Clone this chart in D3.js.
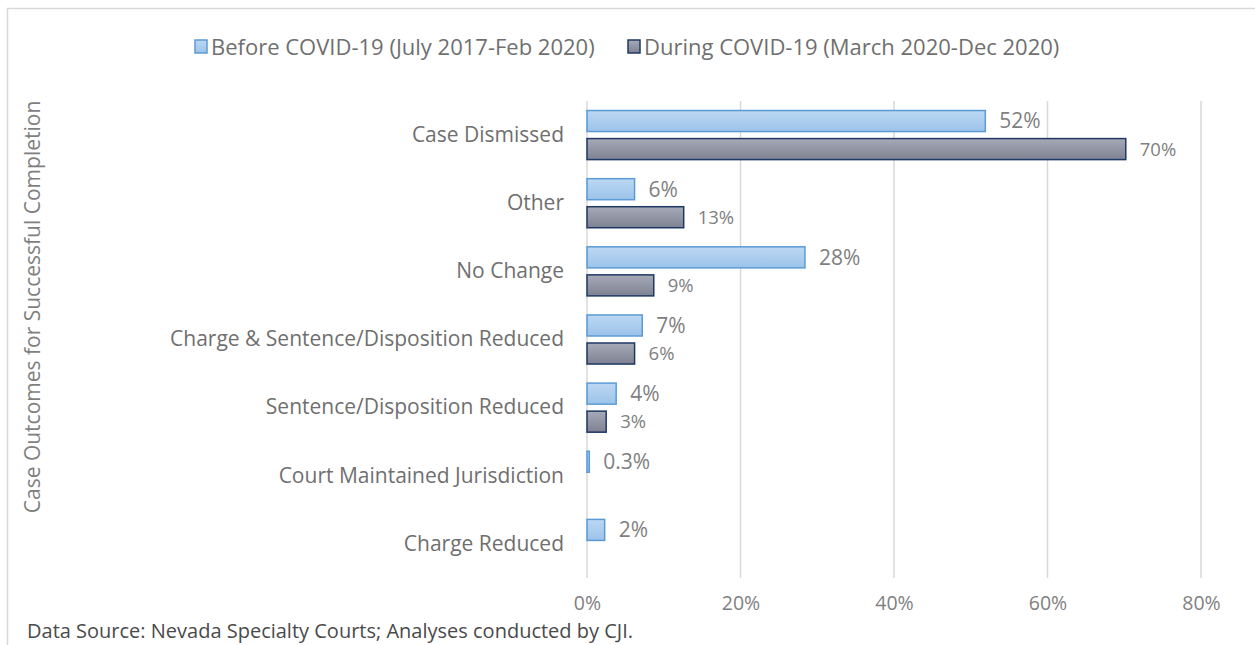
<!DOCTYPE html>
<html>
<head>
<meta charset="utf-8">
<script src="https://cdn.jsdelivr.net/npm/d3@7"></script>
<style>
  html, body { margin: 0; padding: 0; background: #fff; }
  svg { display: block; }
  text { font-family: "Open Sans", "Noto Sans", sans-serif; }
</style>
</head>
<body>
<svg id="chart" width="1255" height="645"></svg>
<script>
const categories = [
  "Case Dismissed",
  "Other",
  "No Change",
  "Charge & Sentence/Disposition Reduced",
  "Sentence/Disposition Reduced",
  "Court Maintained Jurisdiction",
  "Charge Reduced"
];
const beforeValues = [0.519, 0.062, 0.284, 0.072, 0.038, 0.003, 0.023];
const duringValues = [0.702, 0.126, 0.087, 0.062, 0.025, null, null];
const beforeLabels = ["52%", "6%", "28%", "7%", "4%", "0.3%", "2%"];
const duringLabels = ["70%", "13%", "9%", "6%", "3%", "", ""];
const seriesNames = ["Before COVID-19 (July 2017-Feb 2020)", "During COVID-19 (March 2020-Dec 2020)"];
const xTicks = [0, 0.2, 0.4, 0.6, 0.8];
const yTitle = "Case Outcomes for Successful Completion";
const sourceNote = "Data Source: Nevada Specialty Courts; Analyses conducted by CJI.";

const svg = d3.select("#chart");
const defs = svg.append("defs");

const gB = defs.append("linearGradient").attr("id", "gBefore").attr("x1", 0).attr("y1", 0).attr("x2", 0).attr("y2", 1);
gB.append("stop").attr("offset", "0%").attr("stop-color", "#bcd8f3");
gB.append("stop").attr("offset", "100%").attr("stop-color", "#9cc3ea");
const gD = defs.append("linearGradient").attr("id", "gDuring").attr("x1", 0).attr("y1", 0).attr("x2", 0).attr("y2", 1);
gD.append("stop").attr("offset", "0%").attr("stop-color", "#a7abb8");
gD.append("stop").attr("offset", "100%").attr("stop-color", "#7d8191");

const series = [
  { key: "before", values: beforeValues, labels: beforeLabels, fill: "url(#gBefore)", stroke: "#5b9bd5", fs: 21 },
  { key: "during", values: duringValues, labels: duringLabels, fill: "url(#gDuring)", stroke: "#1f3864", fs: 18.5 }
];

// outer border
svg.append("rect").attr("x", 7.5).attr("y", 8.5).attr("width", 1300).attr("height", 700)
  .attr("fill", "none").attr("stroke", "#d9d9d9").attr("stroke-width", 1.5);

const x = d3.scaleLinear().domain([0, 0.8]).range([587, 1201]);
const y0 = d3.scaleBand().domain(categories).range([101, 578]).padding(0);
const y1 = d3.scaleBand().domain(series.map(s => s.key)).range([0, y0.bandwidth()])
  .paddingInner(0.25).paddingOuter(0.34);

// gridlines
svg.append("g").selectAll("line").data(xTicks).join("line")
  .attr("x1", d => x(d)).attr("x2", d => x(d))
  .attr("y1", 101).attr("y2", 578)
  .attr("stroke", "#d9d9d9").attr("stroke-width", 1.5);

// x axis tick labels
const xAxis = d3.axisBottom(x).tickValues(xTicks).tickFormat(d3.format(".0%")).tickSize(0).tickPadding(0);
const xg = svg.append("g").attr("transform", "translate(0,596)").call(xAxis);
xg.select(".domain").remove();
xg.selectAll("text").attr("fill", "#7f7f7f").style("font-size", "19.5px").style("font-family", "'Open Sans', sans-serif");

// y axis category labels
const yAxis = d3.axisLeft(y0).tickSize(0).tickPadding(0);
const yg = svg.append("g").attr("transform", "translate(564,0)").call(yAxis);
yg.select(".domain").remove();
yg.selectAll("text").attr("fill", "#6f6f6f").style("font-size", "21px").style("font-family", "'Open Sans', sans-serif");

// bars
series.forEach(s => {
  const g = svg.append("g");
  const data = categories.map((c, i) => ({ c, v: s.values[i], l: s.labels[i] })).filter(d => d.v != null);
  g.selectAll("rect").data(data).join("rect")
    .attr("x", x(0))
    .attr("y", d => y0(d.c) + y1(s.key))
    .attr("width", d => x(d.v) - x(0))
    .attr("height", y1.bandwidth())
    .attr("fill", s.fill)
    .attr("stroke", s.stroke).attr("stroke-width", 1.5);
  g.selectAll("text").data(data).join("text")
    .attr("x", d => x(d.v) + 14)
    .attr("y", d => y0(d.c) + y1(s.key) + y1.bandwidth() / 2)
    .attr("dy", "0.35em")
    .attr("fill", "#7f7f7f")
    .style("font-size", s.fs + "px")
    .text(d => d.l);
});

// y title
svg.append("text")
  .attr("transform", "translate(40,307) rotate(-90)")
  .attr("text-anchor", "middle")
  .attr("fill", "#7f7f7f")
  .style("font-size", "21px")
  .text(yTitle);

// legend
const legendX = [195, 628];
series.forEach((s, i) => {
  svg.append("rect").attr("x", legendX[i]).attr("y", 40).attr("width", 12).attr("height", 13)
    .attr("fill", s.fill).attr("stroke", s.stroke).attr("stroke-width", 1.5);
  svg.append("text").attr("x", legendX[i] + 16).attr("y", 47).attr("dy", "0.35em")
    .attr("fill", "#6f6f6f").style("font-size", "22px").text(seriesNames[i]);
});

// source
svg.append("text").attr("x", 27).attr("y", 638).attr("fill", "#4a4a4a")
  .style("font-size", "20px").text(sourceNote);
</script>
</body>
</html>
